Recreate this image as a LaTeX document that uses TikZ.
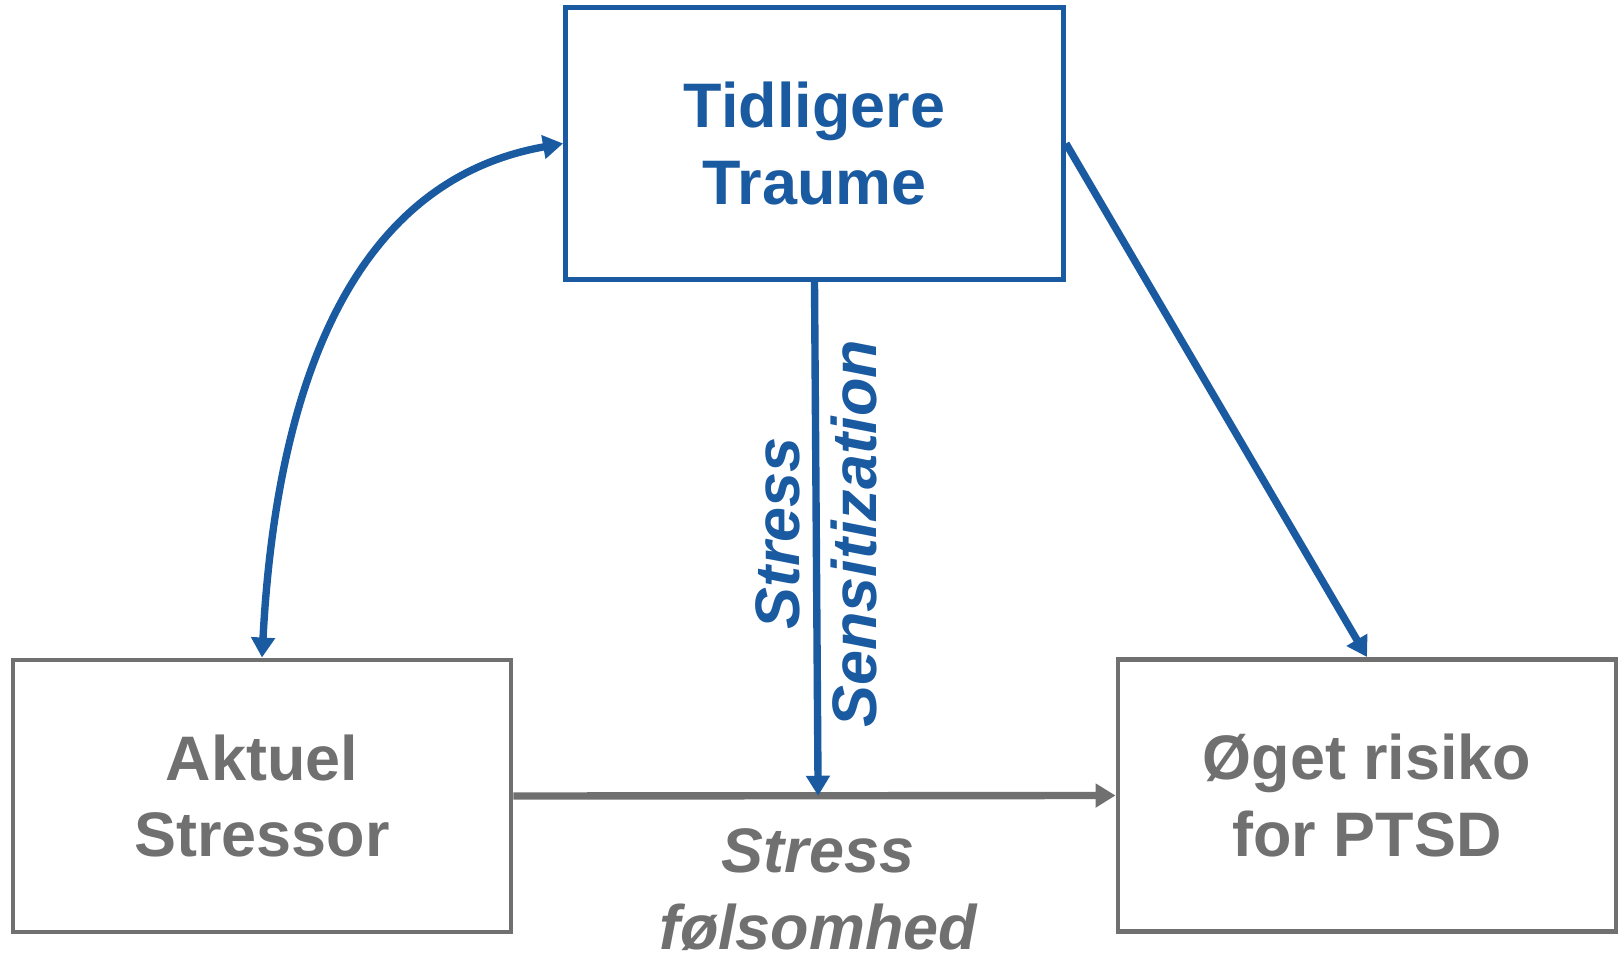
\documentclass[tikz,border=0pt]{standalone}
\usepackage{fontspec}
\setmainfont{Liberation Sans}
\usepackage{tikz}
\usetikzlibrary{arrows.meta,positioning}

\definecolor{traumeblue}{RGB}{26,90,160}
\definecolor{boxgray}{RGB}{112,112,112}

\begin{document}
\begin{tikzpicture}[
    >={Triangle[length=2mm,width=2.3mm]},
    box/.style={draw, line width=1.4pt, minimum width=4.98cm, minimum height=2.72cm,
        align=center, inner sep=0pt, font=\bfseries\fontsize{17.9pt}{21.9pt}\selectfont},
    bluebox/.style={box, draw=traumeblue, text=traumeblue},
    graybox/.style={box, draw=boxgray, text=boxgray},
    link/.style={line width=2.1pt, ->},
    tag/.style={inner sep=0pt, align=center, font=\bfseries\itshape\fontsize{17.9pt}{21.9pt}\selectfont}
  ]
    \useasboundingbox (0, 0) rectangle (16.19, 9.55);
    \node[bluebox] (traume) at (8.145, 8.115) {Tidligere\\Traume};
    \node[graybox] (aktuel) at (2.62, 1.59) {Aktuel\\Stressor};
    \node[graybox] (risiko) at (13.67, 1.595) {Øget risiko\\for PTSD};
    \draw[link, boxgray] (aktuel.east) -- coordinate[pos=0.506] (hit) (risiko.west);
    \draw[link, traumeblue] (traume.south) -- (hit)
        node[pos=0.49, tag, rotate=90] {Stress\\Sensitization};
    \draw[link, traumeblue, <->] (aktuel.north) to[out=87, in=190] (traume.west);
    \draw[link, traumeblue] (traume.east) -- (risiko.north);
    \node[tag, boxgray, below=0.32cm of hit] (folsom) {Stress\\følsomhed};
  \end{tikzpicture}
\end{document}
